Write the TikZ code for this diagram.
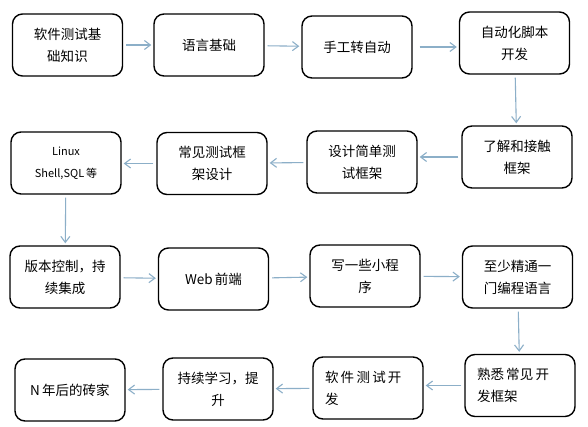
\documentclass[tikz,border=0pt]{standalone}
\usepackage{fontspec}
\setmainfont{Noto Sans CJK SC}
\usetikzlibrary{arrows.meta}
\definecolor{arrowc}{HTML}{8CAFC8}
\begin{document}
\begin{tikzpicture}[x=1pt,y=-1pt,
  box/.style={draw=black,line width=1.4pt,rounded corners=10pt,minimum width=110pt,minimum height=62pt,inner sep=0pt,text width=104pt,align=center,font=\fontsize{13.5}{22}\selectfont},
  lbox/.style={box,align=left,text width=86pt},
  conn/.style={draw=arrowc,line width=1.1pt,-{Straight Barb[length=6pt,width=9pt]},shorten <=3pt,shorten >=2pt}]
\useasboundingbox[fill=white] (0,0) rectangle (588,427);
\node[box] (b1) at (67.5,45) {软件测试基\\础知识};
\node[box] (b2) at (209,45) {语言基础};
\node[box] (b3) at (357,47) {手工转自动};
\node[box] (b4) at (514.5,43) {自动化脚本\\开发};
\node[box] (b5) at (517,157) {了解和接触\\框架};
\node[box] (b6) at (362,162) {设计简单测\\试框架};
\node[box] (b7) at (212,163.5) {常见测试框\\架设计};
\node[box,font=\fontsize{11}{22}\selectfont] (b8) at (66,163) {Linux\\Shell,SQL\,等};
\node[box] (b9) at (65,277) {版本控制，持\\续集成};
\node[box] (b10) at (213.5,279) {Web\,前端};
\node[box] (b11) at (365,276) {写一些小程\\序};
\node[box] (b12) at (517.5,277) {至少精通一\\门编程语言};
\node[lbox] (b13) at (520,385.5) {熟悉\,常见\,开\\发框架};
\node[lbox] (b14) at (368,388) {软\,件\,测\,试\,开\\发};
\node[box] (b15) at (218,389) {持续学习，提\\升};
\node[box] (b16) at (70,390) {N\,年后的砖家};
\draw[conn] (b1) -- (b2);
\draw[conn] (b2) -- (b3);
\draw[conn,shorten <=7pt] (b3.east) -- (b3.east -| b4.west);
\draw[conn] (b4) -- (b5);
\draw[conn] (b5.west) -- (b5.west -| b6.east);
\draw[conn] (b6) -- (b7);
\draw[conn] (b7.west) -- (b7.west -| b8.east);
\draw[conn] (b8) -- (b9);
\draw[conn] (b9) -- (b10);
\draw[conn] (b10) -- (b11);
\draw[conn] (b11) -- (b12);
\draw[conn] (b12) -- (b13);
\draw[conn] (b13.west) -- (b13.west -| b14.east);
\draw[conn] (b14) -- (b15);
\draw[conn] (b15) -- (b16);
\end{tikzpicture}
\end{document}
